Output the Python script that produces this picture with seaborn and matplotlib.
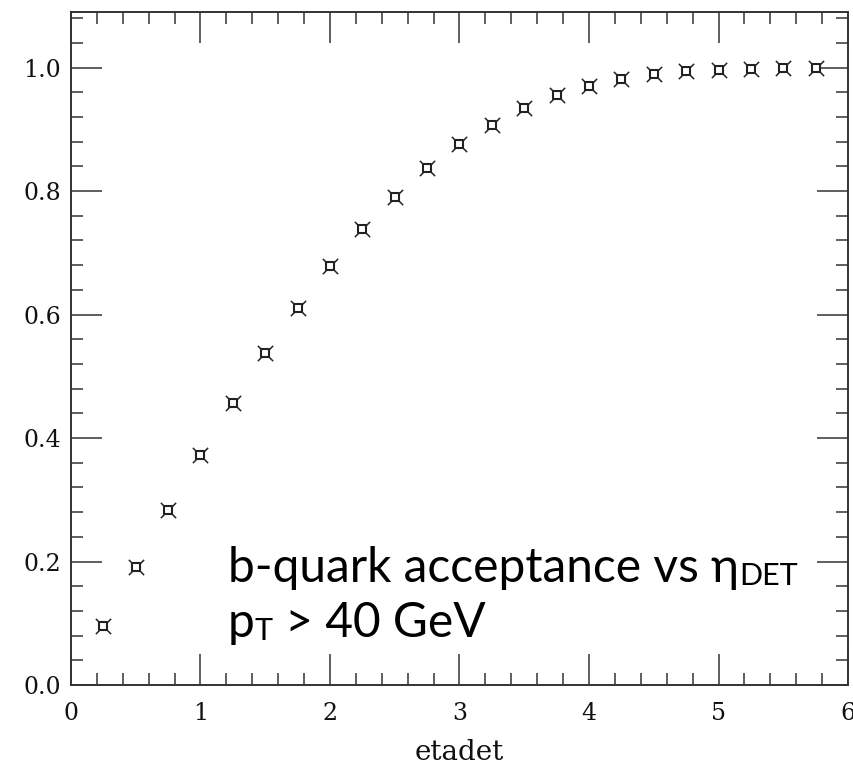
import matplotlib
matplotlib.use("Agg")
import matplotlib.pyplot as plt
import seaborn as sns
import pandas as pd
from matplotlib.ticker import MultipleLocator, FormatStrFormatter

# ---- data ----
eta_det = [0.25, 0.5, 0.75, 1.0, 1.25, 1.5, 1.75, 2.0, 2.25, 2.5, 2.75, 3.0,
           3.25, 3.5, 3.75, 4.0, 4.25, 4.5, 4.75, 5.0, 5.25, 5.5, 5.75]
acceptance = [0.095, 0.191, 0.283, 0.372, 0.457, 0.537, 0.611, 0.678, 0.738,
              0.791, 0.837, 0.876, 0.907, 0.934, 0.956, 0.970, 0.982, 0.990,
              0.994, 0.996, 0.998, 0.999, 0.999]
x_label = "etadet"
title_main = "b-quark acceptance vs η"
title_sub = "DET"
line2_main = "p"
line2_sub = "T"
line2_rest = " > 40 GeV"

df = pd.DataFrame({"etadet": eta_det, "acc": acceptance})

sns.set_theme(style="ticks")
plt.rcParams["font.family"] = ["DejaVu Serif"]

fig = plt.figure(figsize=(8.54, 7.65), dpi=100)
ax = fig.add_axes([0.0831, 0.1046, 0.9099, 0.8797])

ink = "#222222"
# spikes (x) under a white-filled square -> square with corner spikes
sns.scatterplot(data=df, x="etadet", y="acc", ax=ax, marker="x", s=11**2,
                color=ink, linewidth=1.1, zorder=3, legend=False)
sns.scatterplot(data=df, x="etadet", y="acc", ax=ax, marker="s", s=5.4**2,
                facecolor="white", edgecolor=ink, linewidth=1.5, zorder=4,
                legend=False)

ax.set_xlim(0, 6)
ax.set_ylim(0, 1.09)
ax.xaxis.set_major_locator(MultipleLocator(1))
ax.xaxis.set_minor_locator(MultipleLocator(0.2))
ax.yaxis.set_major_locator(MultipleLocator(0.2))
ax.yaxis.set_minor_locator(MultipleLocator(0.04))
ax.xaxis.set_major_formatter(FormatStrFormatter("%d"))
ax.yaxis.set_major_formatter(FormatStrFormatter("%.1f"))

ax.tick_params(which="both", direction="in", top=True, right=True,
               color="#333333", width=1.1)
ax.tick_params(which="major", length=22, labelsize=17, labelcolor="#111111")
ax.tick_params(axis="x", which="major", pad=12)
ax.tick_params(axis="y", which="major", pad=7)
ax.tick_params(which="minor", length=8.5)
for s in ax.spines.values():
    s.set_linewidth(1.4)
    s.set_color("#333333")

ax.set_xlabel(x_label, fontsize=20, family="DejaVu Serif", labelpad=10,
              color="#111111")
ax.set_ylabel("")

fam = ["Lato", "DejaVu Sans"]
big = 34.5
small = 22
x0 = 1.21
y1 = 0.167
y2 = 0.078
sub_dy = 0.005

renderer = fig.canvas.get_renderer()
inv = ax.transData.inverted()


def right_end(t):
    bb = t.get_window_extent(renderer)
    return inv.transform((bb.x1, bb.y0))[0]


t1 = ax.text(x0, y1, title_main, fontsize=big, family=fam,
             color="black", ha="left", va="baseline")
ax.text(right_end(t1) + 0.005, y1 - sub_dy, title_sub, fontsize=small,
        family=fam, color="black", ha="left", va="baseline")

t2 = ax.text(x0, y2, line2_main, fontsize=big, family=fam,
             color="black", ha="left", va="baseline")
t3 = ax.text(right_end(t2), y2 - sub_dy, line2_sub, fontsize=small,
             family=fam, color="black", ha="left", va="baseline")
ax.text(right_end(t3), y2, line2_rest, fontsize=big, family=fam,
        color="black", ha="left", va="baseline")

fig.savefig("out.png", dpi=100)
